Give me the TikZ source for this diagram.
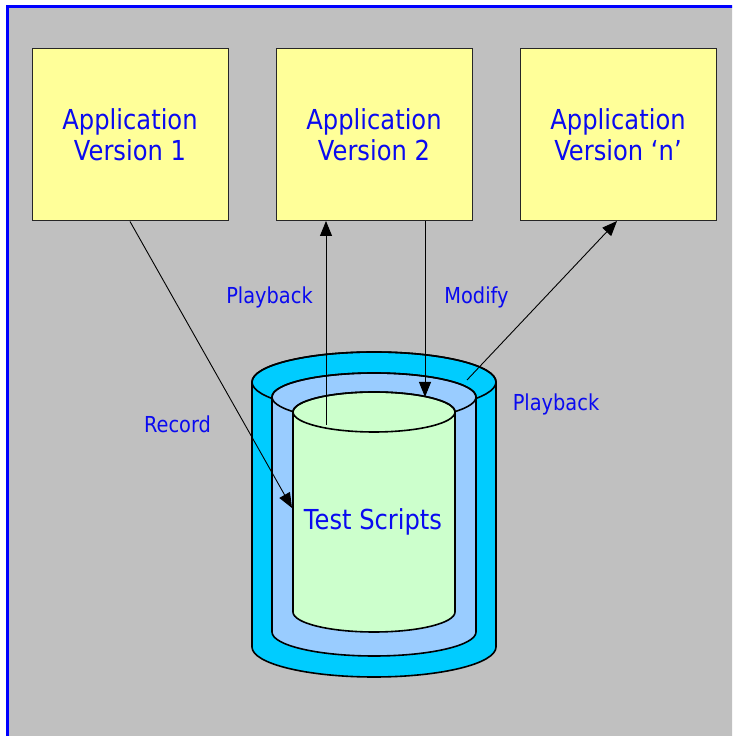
\documentclass[tikz,border=0pt]{standalone}
\usepackage{fontspec}
\setmainfont[FakeStretch=0.88]{DejaVu Sans}
\usetikzlibrary{arrows.meta}
\definecolor{bggray}{RGB}{192,192,192}
\definecolor{boxyellow}{RGB}{255,255,153}
\definecolor{cylouter}{RGB}{0,204,255}
\definecolor{cylmid}{RGB}{153,204,255}
\definecolor{cylinner}{RGB}{204,255,204}
\definecolor{txtblue}{RGB}{10,10,240}
\begin{document}
\begin{tikzpicture}[x=1pt,y=1pt,
  appbox/.style={draw=black!85,line width=1pt,fill=boxyellow,minimum width=196pt,minimum height=172pt,
    align=center,text=txtblue,font=\fontsize{27.5}{31}\selectfont,inner sep=0pt},
  lbl/.style={text=txtblue,font=\fontsize{22}{24}\selectfont,anchor=base,inner sep=0pt},
  cylline/.style={draw=black,line width=1.6pt},
  arr/.style={draw=black,line width=0.9pt,-{Triangle[length=15pt,width=12pt]}}]
\useasboundingbox (0,0) rectangle (732,736);
\clip (0,0) rectangle (732,736);
\fill[white] (0,0) rectangle (732,736);
\filldraw[fill=bggray,draw=blue,line width=2.5pt] (7.5,-20) rectangle (760,729.5);
% application boxes
\node[appbox] (v1) at (130,601) {Application\\Version 1};
\node[appbox] (v2) at (374,601) {Application\\Version 2};
\node[appbox] (vn) at (618,601) {Application\\Version ‘n’};
% outer cylinder
\filldraw[cylline,fill=cylouter] (252,354) -- (252,89) arc[start angle=180,end angle=360,x radius=122,y radius=30]
  -- (496,354) arc[start angle=0,end angle=180,x radius=122,y radius=30] -- cycle;
\draw[cylline] (374,354) ellipse[x radius=122,y radius=30];
% middle cylinder
\filldraw[cylline,fill=cylmid] (272,339) -- (272,104) arc[start angle=180,end angle=360,x radius=102,y radius=24]
  -- (476,339) arc[start angle=0,end angle=180,x radius=102,y radius=24] -- cycle;
\draw[cylline] (374,339) ellipse[x radius=102,y radius=24];
% inner cylinder
\filldraw[cylline,fill=cylinner] (293,324) -- (293,124) arc[start angle=180,end angle=360,x radius=81,y radius=20]
  -- (455,324) arc[start angle=0,end angle=180,x radius=81,y radius=20] -- cycle;
\draw[cylline] (374,324) ellipse[x radius=81,y radius=20];
\node[lbl,font=\fontsize{27.5}{31}\selectfont] (ts) at (373,206) {Test Scripts};
% connector end points
\coordinate (recend) at (292,228);
\coordinate (pbstart) at (326,311);
\coordinate (v2left) at (326,515);
\coordinate (v2right) at (425,515);
\coordinate (modend) at (425,339);
\coordinate (pb2start) at (467,356);
\coordinate (vnbot) at (617,515);
% connectors
\draw[arr] (v1.south) -- (recend);
\draw[arr] (pbstart) -- (v2left);
\draw[arr] (v2right) -- (modend);
\draw[arr] (pb2start) -- (vnbot);
% labels
\node[lbl] (lpb1) at (269.5,432) {Playback};
\node[lbl] (lmod) at (476.5,432) {Modify};
\node[lbl] (lrec) at (177.5,303) {Record};
\node[lbl] (lpb2) at (556,325) {Playback};
\end{tikzpicture}
\end{document}
